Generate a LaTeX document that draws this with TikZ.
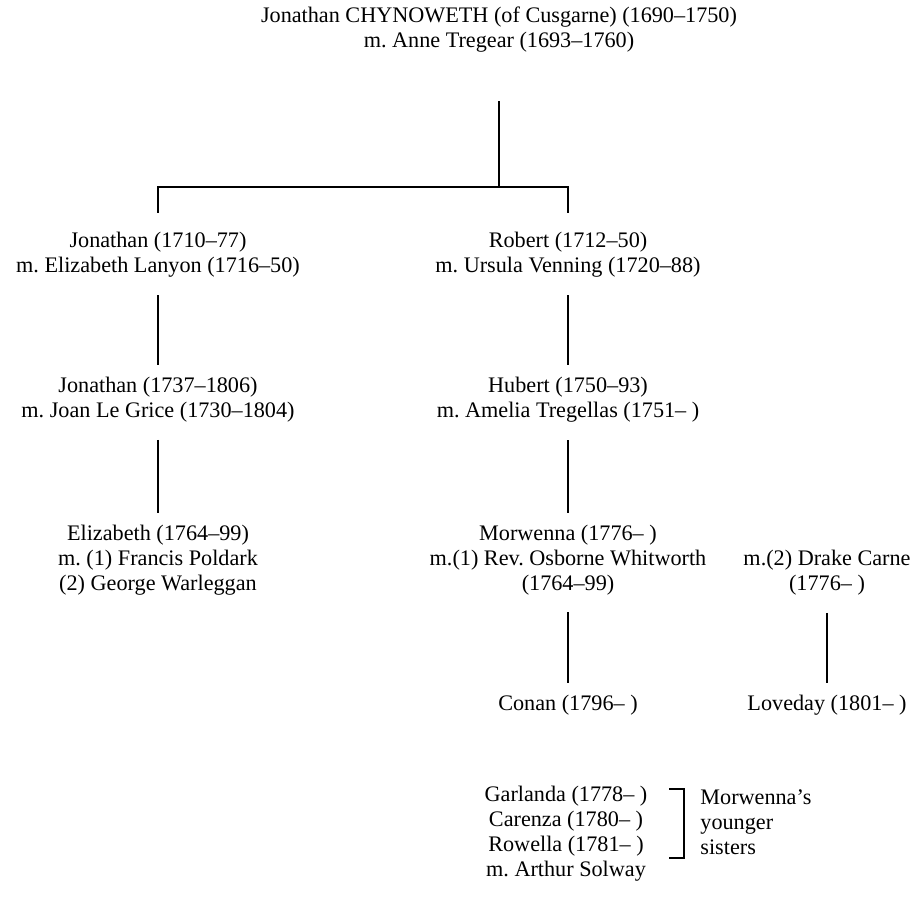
\documentclass[tikz,border=0pt]{standalone}
\usepackage{fontspec}
\setmainfont{Liberation Serif}
\usetikzlibrary{positioning}
\tikzstyle{person}=[align=center,inner sep=0pt,font=\fontsize{11.1}{12.5}\selectfont\frenchspacing]
\tikzstyle{link}=[draw,line width=0.9pt,shorten <=8.5pt,shorten >=6pt]

\begin{document}
\begin{tikzpicture}[x=0.5pt,y=-0.5pt]
    \useasboundingbox (0,0) rectangle (924,899);
    % The head of the family
    \node[person] (top) at (499,30) {Jonathan CHYNOWETH (of Cusgarne) (1690--1750)\\m. Anne Tregear (1693--1760)};
    \coordinate (fork) at (499,187);

    % Left branch
    \node[person] (jon1) at (158,255) {Jonathan (1710--77)\\m. Elizabeth Lanyon (1716--50)};
    \node[person] (jon2) at (158,400) {Jonathan (1737--1806)\\m. Joan Le Grice (1730--1804)};
    \node[person] (eliz) at (158,560) {Elizabeth (1764--99)\\m. (1) Francis Poldark\\(2) George Warleggan};

    % Right branch
    \node[person] (rob) at (568,255) {Robert (1712--50)\\m. Ursula Venning (1720--88)};
    \node[person] (hub) at (568,400) {Hubert (1750--93)\\m. Amelia Tregellas (1751-- )};
    \node[person] (morw) at (568,560) {Morwenna (1776-- )\\m.(1) Rev. Osborne Whitworth\\(1764--99)};
    \node[person] (drake) at (827,573) {m.(2) Drake Carne\\(1776-- )};
    \node[person] (conan) at (568,705) {Conan (1796-- )};
    \node[person] (loveday) at (827,705) {Loveday (1801-- )};

    % The younger sisters
    \node[person] (sisters) at (566,834) {Garlanda (1778-- )\\Carenza (1780-- )\\Rowella (1781-- )\\m. Arthur Solway};
    \node[person,align=left,anchor=west] (note) at (700,822) {Morwenna's\\younger\\sisters};

    % Connect parents with children
    \path[link,shorten <=24pt,shorten >=0pt] (top) -- (fork);
    \path[link,shorten <=0pt,shorten >=9.5pt] (fork) -| (jon1);
    \path[link,shorten <=0pt,shorten >=9.5pt] (fork) -| (rob);
    \foreach \source/\dest in {jon1/jon2, jon2/eliz, rob/hub, hub/morw, morw/conan, drake/loveday}
        \path[link] (\source) -- (\dest);

    % bracket round the sisters
    \draw[line width=0.9pt] (669,789) -- (684,789) -- (684,858) -- (669,858);
\end{tikzpicture}
\end{document}
